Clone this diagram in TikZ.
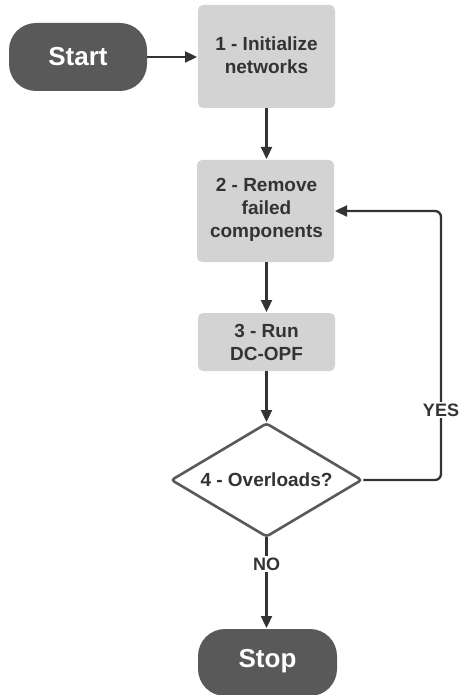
\documentclass[tikz,border=0pt]{standalone}
\usepackage{fontspec}
\setmainfont{Liberation Sans}
\usetikzlibrary{shapes.geometric,arrows.meta}
\definecolor{term}{HTML}{595959}
\definecolor{procfill}{HTML}{D3D3D3}
\definecolor{ink}{HTML}{333333}
\tikzset{
  termbox/.style={fill=term, draw=none, rounded corners=27pt, text=white,
    font=\fontsize{26}{30}\selectfont\bfseries},
  procbox/.style={fill=procfill, draw=none, rounded corners=5pt, text=ink,
    align=center, font=\fontsize{19}{23}\selectfont\bfseries},
  decbox/.style={diamond, aspect=1.68, fill=white, draw=term, line width=2.6pt,
    rounded corners=3pt, text=ink, inner sep=0pt,
    font=\fontsize{19}{23}\selectfont\bfseries},
  flow/.style={draw=ink, line width=2.3pt, -{Triangle[length=12pt,width=11pt]}},
  lbl/.style={fill=white, text=ink, inner sep=2pt, font=\fontsize{18}{20}\selectfont\bfseries}
}
\begin{document}
\begin{tikzpicture}[x=1pt,y=-1pt]
\useasboundingbox (0,0) rectangle (458,695);
\path[termbox] (9,23) rectangle (147,91);
\node (start) [text=white, font=\fontsize{26}{30}\selectfont\bfseries, minimum width=138pt, minimum height=68pt] at (78,57) {Start};
\path[procbox] (198,5) rectangle (335,108);
\node (n1) [procbox, fill=none, minimum width=137pt, minimum height=103pt] at (266.5,55) {1 - Initialize\\networks};
\path[procbox] (197,160) rectangle (334,262);
\node (n2) [procbox, fill=none, minimum width=137pt, minimum height=102pt] at (266.5,210) {2 - Remove\\failed\\components};
\path[procbox] (198,313) rectangle (335,371);
\node (n3) [procbox, fill=none, minimum width=137pt, minimum height=58pt] at (266.5,342) {3 - Run\\DC-OPF};
\node (n4) [decbox, minimum width=191pt, minimum height=114pt] at (266.5,480) {4 - Overloads?};
\path[termbox] (198,629) rectangle (337,696);
\node (stop) [text=white, font=\fontsize{26}{30}\selectfont\bfseries, minimum width=139pt, minimum height=66pt] at (267.5,661) {Stop};
\coordinate (s1) at (147,57);
\coordinate (b1l) at (197,57);
\draw[flow] (s1) -- (b1l);
\draw[flow] (266.5,108) -- (266.5,159);
\draw[flow] (266.5,262) -- (266.5,312);
\draw[flow] (266.5,371) -- (266.5,422);
\coordinate (rt) at (441,211);
\coordinate (b2r) at (335,211);
\draw[flow, rounded corners=6pt] (n4.east) -- (441,480) -- (rt) -- (b2r);
\node[lbl] (yes) at (441,410) {YES};
\draw[flow] (266.5,537) -- (266.5,628);
\node[lbl] (no) at (266.5,564) {NO};
\end{tikzpicture}
\end{document}
